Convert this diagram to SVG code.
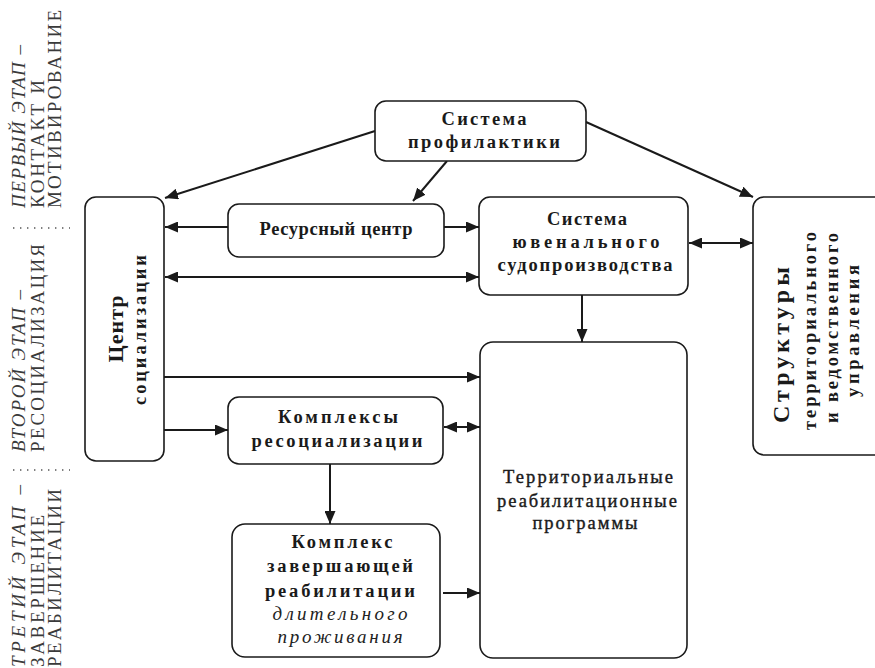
<svg xmlns="http://www.w3.org/2000/svg" width="875" height="668" viewBox="0 0 875 668">
<defs>
<marker id="ah" viewBox="0 0 13 11" refX="13" refY="5.5" markerWidth="13" markerHeight="11" markerUnits="userSpaceOnUse" orient="auto-start-reverse">
<path d="M0,0 L13,5.5 L0,11 z" fill="#1a1a1a"/>
</marker>
</defs>
<style>
.box{fill:#fff;stroke:#1a1a1a;stroke-width:1.6}
.b{font-family:"Liberation Serif","DejaVu Serif",serif;font-weight:bold;font-size:18.5px;fill:#1a1a1a;text-anchor:middle}
.r{font-family:"Liberation Serif","DejaVu Serif",serif;font-size:18.5px;fill:#1a1a1a;text-anchor:middle;stroke:#1a1a1a;stroke-width:0.4}
.i{font-family:"Liberation Serif","DejaVu Serif",serif;font-style:italic;font-size:19px;fill:#222;text-anchor:middle}
.st{font-family:"Liberation Serif","DejaVu Serif",serif;font-size:19px;fill:#3a3a3a}
.sti{font-family:"Liberation Serif","DejaVu Serif",serif;font-size:19px;fill:#3a3a3a;font-style:italic}
.ln{stroke:#1a1a1a;stroke-width:2;fill:none}
.dot{stroke:#555;stroke-width:1.4;stroke-dasharray:1.4 5.6;fill:none}
</style>

<g id="stages">
<g id="stage1">
<text class="sti" transform="translate(25,208) rotate(-90)" textLength="163">ПЕРВЫЙ ЭТАП –</text>
<text class="st" transform="translate(44,208) rotate(-90)" textLength="128">КОНТАКТ И</text>
<text class="st" transform="translate(61,208) rotate(-90)" textLength="198">МОТИВИРОВАНИЕ</text>
</g>
<path class="dot" d="M13,228 H70"/>
<g id="stage2">
<text class="sti" transform="translate(25,452) rotate(-90)" textLength="162">ВТОРОЙ ЭТАП –</text>
<text class="st" transform="translate(44,452) rotate(-90)" textLength="208">РЕСОЦИАЛИЗАЦИЯ</text>
</g>
<path class="dot" d="M13,470 H70"/>
<g id="stage3">
<text class="sti" transform="translate(25,667) rotate(-90)" textLength="182">ТРЕТИЙ ЭТАП –</text>
<text class="st" transform="translate(44,667) rotate(-90)" textLength="152">ЗАВЕРШЕНИЕ</text>
<text class="st" transform="translate(61,667) rotate(-90)" textLength="178">РЕАБИЛИТАЦИИ</text>
</g>
</g>

<g id="connectors">
<path class="ln" d="M375,131 L165,198" marker-end="url(#ah)"/>
<path class="ln" d="M447,161 L413,201" marker-end="url(#ah)"/>
<path class="ln" d="M586,122 L753,197" marker-end="url(#ah)"/>
<path class="ln" d="M228,227 H165" marker-end="url(#ah)"/>
<path class="ln" d="M444,227 H479" marker-end="url(#ah)"/>
<path class="ln" d="M165,277 H479" marker-start="url(#ah)" marker-end="url(#ah)"/>
<path class="ln" d="M689,243 H753" marker-start="url(#ah)" marker-end="url(#ah)"/>
<path class="ln" d="M582,295 V342" marker-end="url(#ah)"/>
<path class="ln" d="M164,377 H480" marker-end="url(#ah)"/>
<path class="ln" d="M164,430 H228" marker-end="url(#ah)"/>
<path class="ln" d="M444,427 H480" marker-start="url(#ah)" marker-end="url(#ah)"/>
<path class="ln" d="M330,464 V524" marker-end="url(#ah)"/>
<path class="ln" d="M443,593 H480" marker-end="url(#ah)"/>
</g>

<g id="profilaktika">
<rect class="box" x="375" y="101" width="211" height="60" rx="11"/>
<text class="b" x="484" y="125" textLength="85">Система</text>
<text class="b" x="484" y="148" textLength="152">профилактики</text>
</g>

<g id="centr">
<rect class="box" x="85" y="197" width="79" height="264" rx="11"/>
<text class="b" style="font-size:22px" transform="translate(123,329) rotate(-90)" textLength="67">Центр</text>
<text class="b" transform="translate(146,330) rotate(-90)" textLength="150">социализации</text>
</g>

<g id="resurs">
<rect class="box" x="228" y="204" width="216" height="53" rx="11"/>
<text class="b" x="336" y="235" textLength="153">Ресурсный центр</text>
</g>

<g id="juv">
<rect class="box" x="479" y="197" width="209" height="98" rx="11"/>
<text class="b" x="587" y="225" textLength="80">Система</text>
<text class="b" x="586" y="248" textLength="147">ювенального</text>
<text class="b" x="585" y="271" textLength="175">судопроизводства</text>
</g>

<g id="struktury">
<rect class="box" x="753" y="197" width="140" height="258" rx="11"/>
<text class="b" style="font-size:24px" transform="translate(789,345) rotate(-90)" textLength="156">Структуры</text>
<text class="b" transform="translate(816,331) rotate(-90)" textLength="198">территориального</text>
<text class="b" transform="translate(838,328) rotate(-90)" textLength="190">и ведомственного</text>
<text class="b" transform="translate(859,331) rotate(-90)" textLength="132">управления</text>
</g>

<g id="territorial">
<rect class="box" x="480" y="342" width="207" height="316" rx="13"/>
<text class="r" x="588" y="483" textLength="170">Территориальные</text>
<text class="r" x="587" y="507" textLength="180">реабилитационные</text>
<text class="r" x="585" y="529" textLength="105">программы</text>
</g>

<g id="kompleksy">
<rect class="box" x="228" y="397" width="215" height="67" rx="11"/>
<text class="b" x="338" y="423" textLength="120">Комплексы</text>
<text class="b" x="337" y="447" textLength="171">ресоциализации</text>
</g>

<g id="kompleks">
<rect class="box" x="232" y="524" width="208" height="133" rx="13"/>
<text class="b" x="342" y="548" textLength="101">Комплекс</text>
<text class="b" x="340" y="572" textLength="146">завершающей</text>
<text class="b" x="340" y="597" textLength="150">реабилитации</text>
<text class="i" x="340" y="620" textLength="135">длительного</text>
<text class="i" x="340" y="643" textLength="125">проживания</text>
</g>
</svg>
